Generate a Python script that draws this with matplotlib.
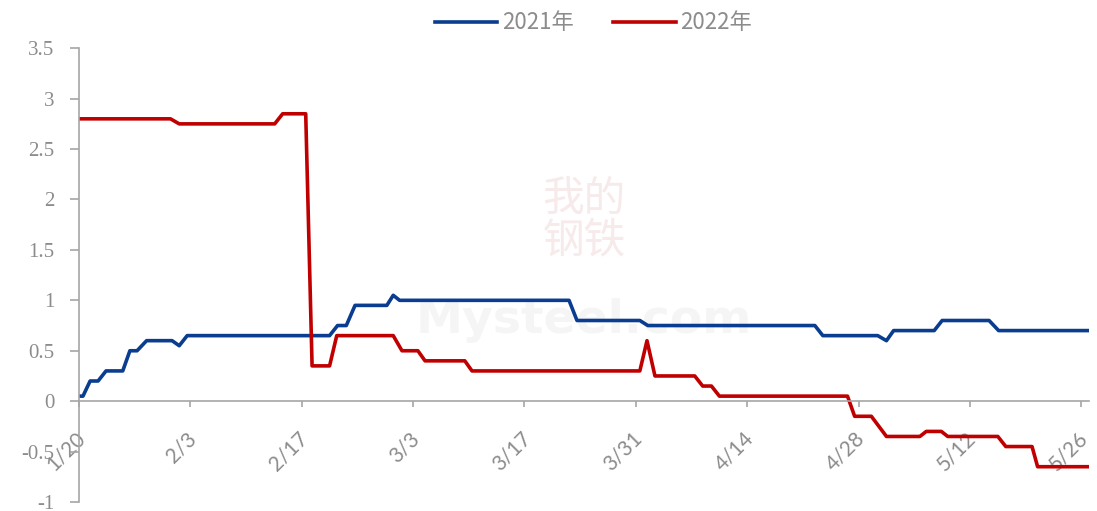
import matplotlib.pyplot as plt
import matplotlib.transforms as mtransforms

# x positions are days counted from 1/20
tick_days = [0, 14, 28, 42, 56, 70, 84, 98, 112, 126]
tick_labels = ['1/20', '2/3', '2/17', '3/3', '3/17', '3/31', '4/14', '4/28', '5/12', '5/26']

# 2021 line (vertices)
days_2021 = [0, 0.5, 1.4, 2.4, 3.4, 5.5, 6.4, 7.3, 8.5, 11.7, 12.6, 13.6, 31.5, 32.5,
             33.6, 34.7, 38.7, 39.5, 40.3, 61.6, 62.6, 70.5, 71.5, 92.5, 93.5, 100.4,
             101.5, 102.4, 107.5, 108.5, 114.4, 115.6, 126.8]
vals_2021 = [0.05, 0.05, 0.2, 0.2, 0.3, 0.3, 0.5, 0.5, 0.6, 0.6, 0.55, 0.65, 0.65, 0.75,
             0.75, 0.95, 0.95, 1.05, 1.0, 1.0, 0.8, 0.8, 0.75, 0.75, 0.65, 0.65,
             0.6, 0.7, 0.7, 0.8, 0.8, 0.7, 0.7]

# 2022 line
days_2022 = [0, 11.5, 12.6, 24.6, 25.6, 28.5, 29.3, 31.5, 32.4, 39.5, 40.6, 42.6, 43.5,
             48.5, 49.4, 70.5, 71.4, 72.4, 77.4, 78.4, 79.5, 80.5, 96.6, 97.5, 99.6,
             101.5, 105.7, 106.5, 108.4, 109.2, 115.5, 116.5, 119.8, 120.5, 126.8]
vals_2022 = [2.8, 2.8, 2.75, 2.75, 2.85, 2.85, 0.35, 0.35, 0.65, 0.65, 0.5, 0.5, 0.4,
             0.4, 0.3, 0.3, 0.6, 0.25, 0.25, 0.15, 0.15, 0.05, 0.05, -0.15, -0.15,
             -0.35, -0.35, -0.3, -0.3, -0.35, -0.35, -0.45, -0.45, -0.65, -0.65]

grey = '#8c8c8c'
serif = ['Liberation Serif', 'DejaVu Serif']

fig = plt.figure(figsize=(10.97, 5.11), dpi=100)
ax = fig.add_axes([0.072, 0.0176, 0.921, 0.888])

# faint watermark
ax.text(0.5, 0.62, '我的\n钢铁', transform=ax.transAxes, ha='center', va='center',
        fontsize=30, color='#f7eaea', family=['Noto Sans CJK SC'], linespacing=1.0, zorder=0)
ax.text(0.5, 0.40, 'Mysteel.com', transform=ax.transAxes, ha='center', va='center',
        fontsize=34, color='#f5f5f5', fontweight='bold', family=['DejaVu Sans'], zorder=0)

ax.plot(days_2021, vals_2021, color='#0a3d8f', lw=2.6, label='2021年', solid_joinstyle='round')
ax.plot(days_2022, vals_2022, color='#c00000', lw=2.6, label='2022年', solid_joinstyle='round')

for s in ['top', 'right']:
    ax.spines[s].set_visible(False)
ax.spines['bottom'].set_position(('data', 0))
for s in ['left', 'bottom']:
    ax.spines[s].set_color('#a6a6a6')
    ax.spines[s].set_linewidth(1.2)

ax.set_xlim(0, 127)
ax.set_ylim(-1, 3.5)
ax.set_yticks([-1, -0.5, 0, 0.5, 1, 1.5, 2, 2.5, 3, 3.5])
ax.set_yticklabels(['-1', '-0.5', '0', '0.5', '1', '1.5', '2', '2.5', '3', '3.5'])
ax.set_xticks(tick_days)
ax.set_xticklabels(tick_labels)
ax.tick_params(axis='y', direction='out', length=6.5, width=1.2, color='#a6a6a6', pad=11,
               labelcolor=grey, labelsize=15)
ax.tick_params(axis='x', direction='out', length=4.5, width=1.2, color='#a6a6a6', pad=2,
               labelcolor=grey, labelsize=15, labelrotation=45)

shift = mtransforms.ScaledTranslation(10 / 100, -18 / 100, fig.dpi_scale_trans)
for lab in ax.get_yticklabels():
    lab.set_family(serif)
for lab in ax.get_xticklabels():
    lab.set_family(['Lato', 'DejaVu Sans'])
    lab.set_ha('right')
    lab.set_va('top')
    lab.set_transform(lab.get_transform() + shift)

leg = fig.legend(loc='center', bbox_to_anchor=(0.541, 0.955), ncol=2, frameon=False,
                 prop={'family': ['Noto Sans CJK SC', 'DejaVu Sans'], 'size': 16},
                 handlelength=2.8, columnspacing=1.8, handletextpad=0.2)
for t in leg.get_texts():
    t.set_color(grey)

fig.savefig('out.png', dpi=100)
